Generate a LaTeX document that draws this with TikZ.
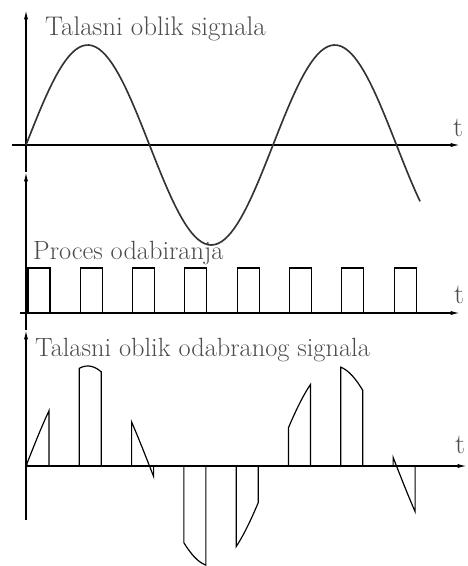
\documentclass[tikz,border=0pt]{standalone}
\usetikzlibrary{arrows.meta}

\begin{document}
\begin{tikzpicture}[x=0.03cm, y=-0.03cm,
  osa/.style={line width=1.1pt, -{Latex[length=8pt,width=3.5pt]}},
  natpis/.style={anchor=base west, inner sep=0pt, text=black!70,
    font=\fontsize{22.5}{26}\selectfont},
  oznaka/.style={anchor=base, inner sep=0pt, text=black!70,
    font=\fontsize{24}{28}\selectfont},
  talas/.style={line width=1.4pt, black!80},
  impuls/.style={line width=1pt}]
\useasboundingbox (0,0) rectangle (467,566);

% Talasni oblik signala
\coordinate (o1) at (26,145);
\coordinate (y1) at (26,10);
\coordinate (x1a) at (12,145);
\coordinate (x1b) at (460,145);
\draw[osa] (26,172) -- (y1);
\draw[osa] (x1a) -- (x1b);
\node[natpis, font=\fontsize{23}{27}\selectfont] (n1) at (45,36) {Talasni oblik signala};
\node[oznaka] (t1) at (458,137) {t};
\draw[talas] plot[domain=26:420, samples=120] (\x, {145-100*sin(1.4575*(\x-26))});

% Proces odabiranja
\coordinate (y2) at (26,172);
\coordinate (x2a) at (20,313);
\coordinate (x2b) at (460,313);
\draw[osa] (26,330) -- (y2);
\draw[osa] (x2a) -- (x2b);
\node[natpis] (n2) at (33,259) {Proces odabiranja};
\node[oznaka] (t2) at (459,303) {t};
\foreach \i in {0,...,7}
  \draw[impuls] ({28+52.3*\i},313) rectangle ({50+52.3*\i},268);

% Talasni oblik odabranog signala
\coordinate (y3) at (26,330);
\coordinate (x3a) at (26,466);
\coordinate (x3b) at (467,466);
\draw[osa] (26,520) -- (y3);
\draw[osa] (x3a) -- (x3b);
\node[natpis] (n3) at (35,356) {Talasni oblik odabranog signala};
\node[oznaka] (t3) at (460,453) {t};
\foreach \i in {0,...,7}
  \draw[impuls] ({27+52.3*\i},466)
    -- plot[domain={27+52.3*\i}:{49+52.3*\i}, samples=12] (\x, {466-100*sin(1.4575*(\x-26))})
    -- ({49+52.3*\i},466);
\end{tikzpicture}
\end{document}
